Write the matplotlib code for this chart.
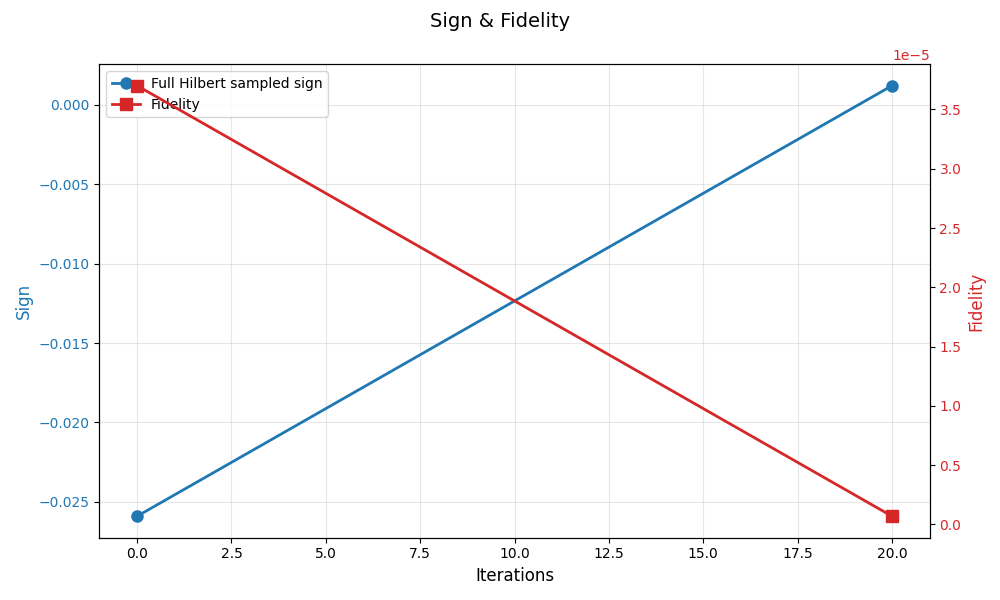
import matplotlib.pyplot as plt

iterations = [0, 20]
sign = [-0.0259, 0.0012]
fidelity = [3.70e-5, 0.07e-5]

fig, ax1 = plt.subplots(figsize=(10, 6))
l1, = ax1.plot(iterations, sign, '-o', color='tab:blue', lw=2, ms=8, label='Full Hilbert sampled sign')
ax1.set_xlabel('Iterations', fontsize=12)
ax1.set_ylabel('Sign', color='tab:blue', fontsize=12)
ax1.tick_params(axis='y', labelcolor='tab:blue')
ax1.grid(True, alpha=0.3)

ax2 = ax1.twinx()
l2, = ax2.plot(iterations, fidelity, '-s', color='tab:red', lw=2, ms=8, label='Fidelity')
ax2.set_ylabel('Fidelity', color='tab:red', fontsize=12)
ax2.tick_params(axis='y', labelcolor='tab:red')
ax2.yaxis.get_offset_text().set_color('tab:red')

ax1.legend([l1, l2], [l1.get_label(), l2.get_label()], loc='upper left')
fig.suptitle('Sign & Fidelity', fontsize=14)
fig.tight_layout()
fig.savefig('out.png', dpi=100)
